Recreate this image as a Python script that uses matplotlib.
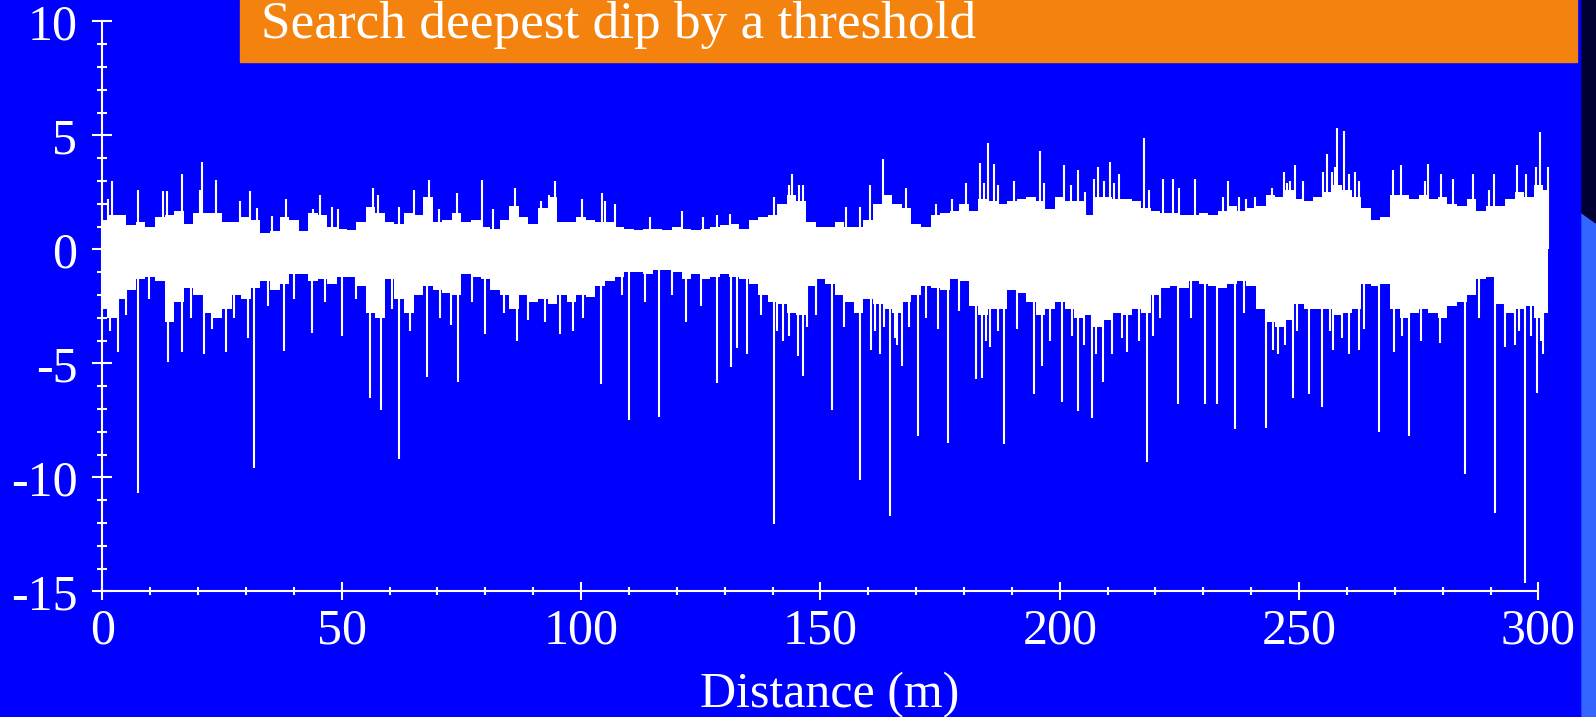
import matplotlib
matplotlib.use("Agg")
import matplotlib.pyplot as plt
import numpy as np
from matplotlib.patches import Rectangle, Polygon

# signal body (dense part), sampled every 2 m
body_x = np.arange(0, 304, 2)
body_top = [1.3, 1.5, 1.5, 1.05, 1.2, 1.0, 1.4, 1.5, 1.7, 1.1,
            1.6, 1.6, 1.6, 1.2, 1.2, 1.4, 1.3, 0.7, 0.8, 1.4,
            1.3, 0.8, 1.6, 1.5, 1.0, 0.9, 0.85, 1.2, 1.85, 1.6,
            1.2, 1.1, 1.6, 1.5, 2.3, 1.2, 1.3, 1.6, 1.2, 1.3,
            1.0, 0.9, 1.3, 1.9, 1.4, 1.1, 1.8, 2.3, 1.2, 1.2,
            1.4, 1.3, 1.2, 1.2, 1.0, 0.9, 0.85, 0.9, 0.9, 0.85,
            1.0, 0.9, 0.85, 0.9, 1.0, 1.05, 1.1, 0.9, 1.3, 1.4,
            1.5, 2.0, 2.4, 2.1, 1.2, 1.0, 1.0, 1.2, 1.0, 1.0,
            1.3, 2.0, 2.4, 2.0, 1.8, 1.1, 1.0, 1.5, 1.6, 1.7,
            2.0, 1.7, 2.2, 2.1, 2.0, 2.1, 2.2, 2.3, 2.1, 1.75,
            2.3, 2.1, 2.1, 1.5, 2.3, 2.3, 2.2, 2.2, 2.1, 1.8,
            1.7, 1.6, 1.6, 1.5, 1.5, 1.6, 1.5, 1.7, 1.9, 1.7,
            1.8, 1.9, 2.4, 2.3, 2.6, 2.2, 2.1, 2.3, 2.5, 2.8,
            2.6, 2.3, 1.8, 1.3, 1.4, 2.4, 2.4, 2.2, 2.4, 2.2,
            2.3, 2.0, 1.9, 2.2, 1.7, 1.9, 1.9, 2.2, 2.5, 2.3,
            2.8, 2.6]
body_bot = [-2.6, -3.0, -2.2, -1.8, -1.3, -1.2, -1.4, -3.2, -2.3, -1.7,
            -2.0, -2.8, -3.0, -2.6, -2.0, -2.2, -1.7, -1.4, -1.8, -1.5,
            -1.1, -1.1, -1.4, -1.3, -1.5, -1.2, -1.2, -1.6, -2.8, -3.0,
            -1.3, -2.2, -2.8, -2.0, -1.6, -1.8, -1.9, -2.0, -1.1, -1.2,
            -1.3, -1.8, -2.0, -2.6, -2.0, -2.3, -2.2, -2.4, -2.0, -2.3,
            -2.0, -2.1, -1.6, -1.4, -1.2, -1.0, -1.0, -1.1, -0.9, -0.9,
            -1.0, -1.3, -1.1, -1.3, -1.2, -1.1, -1.2, -1.3, -1.5, -2.0,
            -2.3, -2.4, -2.8, -2.9, -1.6, -1.3, -1.5, -2.0, -2.3, -2.8,
            -2.2, -2.4, -2.6, -2.8, -2.3, -2.0, -1.6, -1.7, -1.8, -1.3,
            -1.4, -2.5, -2.9, -2.6, -2.6, -1.8, -1.9, -2.3, -2.9, -2.6,
            -2.3, -2.6, -3.0, -2.9, -3.4, -3.1, -2.8, -2.9, -2.6, -2.8,
            -2.0, -1.7, -1.6, -1.7, -1.4, -1.5, -1.6, -1.7, -1.5, -1.4,
            -1.6, -2.6, -3.2, -3.4, -3.1, -2.4, -2.6, -2.6, -2.6, -2.9,
            -2.8, -2.6, -1.5, -1.6, -1.5, -2.6, -3.0, -2.8, -2.6, -2.8,
            -3.0, -2.5, -2.3, -2.0, -1.3, -1.2, -2.4, -2.8, -2.6, -2.5,
            -3.0, -2.8]

# single-sample peaks above the body
peak_x = [1.1, 2.1, 7.5, 12.6, 13.4, 16.7, 20.4, 20.9, 23.7, 28.8,
          30.8, 32.2, 35.4, 38.3, 44.1, 45.4, 47.9, 49.2, 56.6, 57.5,
          61.9, 65.0, 68.3, 70.3, 74.0, 79.4, 81.7, 86.2, 91.7, 93.3,
          94.5, 100.1, 104.3, 105.0, 107.0, 114.5, 121.0, 125.4, 128.3, 131.2,
          140.4, 143.5, 144.1, 145.5, 146.3, 155.3, 158.2, 160.4, 163.0, 167.9,
          174.1, 177.5, 180.4, 183.3, 184.2, 185.0, 186.3, 187.0, 190.4, 195.9,
          196.7, 200.8, 202.3, 203.8, 205.3, 207.2, 208.0, 209.3, 210.5, 211.4,
          212.4, 217.5, 218.7, 221.6, 223.7, 225.0, 228.3, 234.0, 235.1, 237.5,
          239.0, 240.8, 244.3, 246.9, 247.5, 248.2, 249.2, 250.8, 254.9, 255.8,
          256.8, 257.5, 258.0, 259.3, 260.5, 261.6, 262.5, 269.6, 271.3, 276.2,
          276.9, 279.7, 282.1, 286.3, 289.6, 290.8, 295.5, 297.4, 299.4, 300.4,
          302.1]
peak_y = [2.2, 3.0, 2.6, 2.55, 2.55, 3.3, 2.6, 3.85, 3.05, 2.1,
          2.55, 1.8, 1.45, 2.2, 1.75, 2.4, 1.85, 1.75, 2.7, 2.4,
          1.85, 2.6, 3.05, 1.75, 2.45, 3.05, 1.75, 2.7, 2.1, 2.4,
          3.0, 2.2, 2.45, 2.1, 2.0, 1.4, 1.7, 1.4, 1.5, 1.55,
          2.3, 2.8, 3.3, 2.8, 2.8, 1.85, 1.85, 2.8, 3.95, 2.7,
          2.0, 2.2, 2.9, 3.8, 2.9, 4.65, 3.75, 2.8, 3.0, 4.3,
          2.9, 3.7, 2.8, 3.5, 2.5, 3.1, 3.6, 3.0, 3.85, 2.9,
          3.3, 4.9, 2.6, 3.1, 3.1, 2.7, 3.1, 2.3, 3.0, 2.3,
          2.2, 2.3, 2.7, 3.4, 2.9, 3.0, 3.7, 3.0, 3.4, 4.2,
          3.4, 3.6, 5.3, 5.2, 3.3, 3.4, 3.0, 3.5, 3.7, 3.0,
          3.75, 3.3, 3.1, 3.3, 2.6, 3.3, 3.7, 3.3, 3.6, 5.15,
          3.6]

# single-sample dips below the body
dip_x = [1.6, 3.3, 5.0, 7.5, 9.8, 13.8, 16.7, 18.5, 21.3, 23.0,
         25.8, 27.5, 30.5, 31.7, 34.5, 37.9, 40.0, 43.7, 46.5, 50.0,
         53.0, 55.9, 58.2, 60.5, 62.0, 64.2, 67.9, 70.5, 72.8, 74.2,
         77.3, 80.0, 84.0, 86.7, 89.0, 92.5, 95.5, 98.4, 100.5, 104.2,
         108.5, 110.0, 113.3, 116.3, 119.0, 122.0, 125.0, 128.3, 131.3, 132.5,
         134.6, 137.5, 140.4, 141.0, 142.2, 143.5, 145.4, 146.3, 147.2, 149.0,
         152.5, 155.0, 158.3, 160.6, 161.5, 162.4, 163.3, 164.6, 165.5, 166.0,
         167.1, 168.5, 170.4, 172.0, 174.5, 176.7, 179.0, 182.5, 183.7, 184.5,
         185.5, 187.0, 188.4, 191.0, 194.6, 196.2, 198.0, 200.5, 202.5, 203.8,
         205.0, 206.7, 207.5, 209.1, 211.0, 213.0, 214.0, 216.5, 218.2, 219.5,
         221.0, 224.6, 227.5, 230.4, 232.9, 236.7, 238.5, 243.0, 244.5, 245.5,
         247.0, 248.8, 249.5, 252.1, 254.7, 256.5, 257.0, 259.0, 260.5, 262.5,
         263.5, 266.7, 269.8, 271.5, 272.9, 275.5, 279.5, 284.6, 287.5, 290.9,
         293.0, 295.0, 296.0, 297.1, 298.5, 299.6, 300.5, 301.0]
dip_y = [-3.6, -4.5, -2.9, -10.7, -2.2, -4.95, -4.5, -3.0, -4.6, -3.5,
         -4.5, -3.0, -3.9, -9.6, -2.5, -4.45, -2.2, -3.65, -2.3, -3.8,
         -2.2, -6.5, -7.05, -2.6, -9.2, -3.6, -5.6, -3.0, -3.3, -5.8,
         -2.3, -3.7, -2.8, -4.0, -3.1, -3.2, -3.7, -3.6, -3.0, -5.9,
         -2.0, -7.5, -2.3, -7.35, -2.0, -3.2, -2.5, -5.85, -5.15, -4.35,
         -4.6, -2.9, -12.05, -3.6, -4.0, -3.8, -4.7, -5.55, -3.4, -2.9,
         -7.05, -3.4, -10.1, -4.4, -3.6, -4.6, -3.4, -11.7, -3.9, -4.2,
         -5.1, -3.4, -8.2, -3.0, -3.5, -8.5, -2.7, -5.7, -5.65, -4.0,
         -4.3, -3.6, -8.55, -3.5, -6.35, -5.1, -4.0, -6.7, -3.8, -7.1,
         -4.2, -7.4, -4.6, -5.8, -4.6, -3.9, -4.5, -4.0, -9.35, -3.8,
         -3.0, -6.8, -3.0, -6.8, -6.8, -7.9, -2.8, -7.85, -4.4, -4.6,
         -4.2, -6.5, -3.6, -6.35, -6.9, -3.6, -4.4, -3.9, -4.6, -4.4,
         -3.5, -8.0, -4.5, -3.8, -8.2, -4.0, -4.1, -9.85, -3.0, -11.55,
         -4.3, -4.2, -3.6, -14.65, -3.8, -6.3, -4.0, -4.6]

x_ticks = [0, 50, 100, 150, 200, 250, 300]
y_ticks = [-15, -10, -5, 0, 5, 10]
title = "Search deepest dip by a threshold"
x_label = "Distance (m)"

BLUE = "#0000FF"
ORANGE = "#F4820F"
plt.rcParams["font.family"] = ["Liberation Serif", "DejaVu Serif"]
plt.rcParams["axes.unicode_minus"] = False

fig = plt.figure(figsize=(15.96, 7.17), dpi=100, facecolor=BLUE)
ax = fig.add_axes([0.06416, 0.17531, 0.90727, 0.79498])
ax.set_facecolor(BLUE)

ax.fill_between(body_x, body_bot, body_top, step="mid", color="white", lw=0)
ax.vlines(peak_x, 0, peak_y, color="white", lw=1.5)
ax.vlines(dip_x, 0, dip_y, color="white", lw=1.5)

ax.set_xlim(0, 302.5)
ax.set_ylim(-15, 10)
for s in ["top", "right"]:
    ax.spines[s].set_visible(False)
for s in ["left", "bottom"]:
    ax.spines[s].set_color("white")
    ax.spines[s].set_linewidth(1.5)
ax.spines["bottom"].set_bounds(0, 300)
ax.spines["left"].set_bounds(-15, 10)

ax.set_xticks(x_ticks)
ax.set_yticks(y_ticks)
ax.set_xticks(np.arange(0, 301, 10), minor=True)
ax.set_yticks(np.arange(-15, 11, 1), minor=True)
ax.tick_params(axis="x", which="major", direction="inout", length=12.5, width=1.5,
               colors="white", labelsize=36, pad=6)
ax.tick_params(axis="x", which="minor", direction="inout", length=5.5, width=1.5, colors="white")
ax.tick_params(axis="y", which="major", direction="inout", length=14, width=1.5,
               colors="white", labelsize=36, pad=11)
ax.tick_params(axis="y", which="minor", direction="inout", length=6.5, width=1.5, colors="white")

ax.set_xlabel(x_label, color="white", fontsize=36, va="baseline")
ax.xaxis.set_label_coords(0.5025, -0.2039)

# slide decorations
fig.patches.append(Rectangle((0.15038, 0.91353), 0.83772, 0.08647, transform=fig.transFigure,
                             color=ORANGE, zorder=0))
fig.text(0.16353, 0.94742, title, color="white", fontsize=38.3, va="baseline", ha="left")
fig.patches.append(Polygon([(0.99123, 0.0), (1.0, 0.0), (1.0, 0.6890), (0.99123, 0.7029)],
                           closed=True, transform=fig.transFigure, color="#3366FF", zorder=0))
fig.patches.append(Polygon([(0.99123, 0.7029), (1.0, 0.6890), (1.0, 1.0), (0.99123, 1.0)],
                           closed=True, transform=fig.transFigure, color="#000033", zorder=0))

fig.savefig("out.png", dpi=100, facecolor=BLUE)
